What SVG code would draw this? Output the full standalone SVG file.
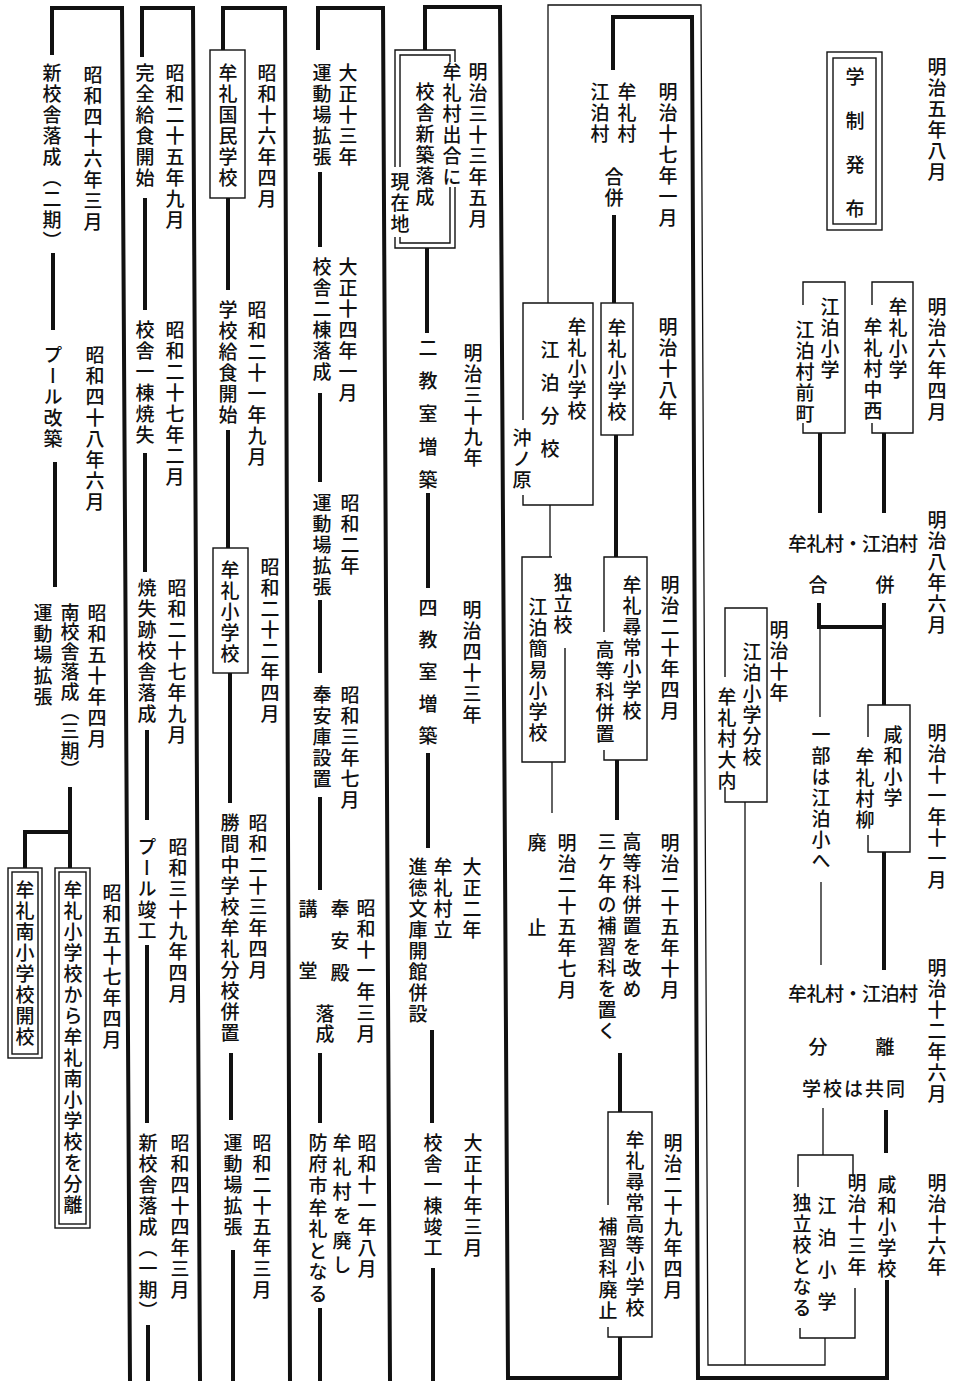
<svg xmlns="http://www.w3.org/2000/svg" width="953" height="1381" viewBox="0 0 953 1381">
<style>
.v{font-family:"Noto Sans CJK JP","Noto Sans CJK SC",sans-serif;font-size:19px;font-weight:500;writing-mode:vertical-rl;letter-spacing:2px;fill:#111}
.h{font-family:"Noto Sans CJK JP","Noto Sans CJK SC",sans-serif;font-size:19px;font-weight:500;dominant-baseline:central;fill:#111}
.k{fill:none;stroke:#111;stroke-width:4}
.t{fill:none;stroke:#111;stroke-width:1.3}
.b{fill:none;stroke:#111;stroke-width:1.4}
</style>
<rect width="953" height="1381" fill="#fff"/>
<g id="connectors">
<path class="k" d="M884,433V513M820,433V513M819,603V627H884M884,603V705M884,852V970M886,1110V1153M887,1280V1378H698L692,17H613V70"/>
<path class="t" d="M820,627V717M821,882V965M823,1108V1155M825,1338V1365H708L701,5H548V303M745,802V1365"/>
<path class="k" d="M614,215V303M616,435V557M617,760V820M620,1053V1112M620,1337V1378H508L500,7H425V50"/>
<path class="t" d="M550,505V557M552,762V813"/>
<path class="k" d="M427,248V333M428,493V588M428,753V848M432,1030V1123M433,1268V1381M390,1381L383,8H318V50"/>
<path class="k" d="M320,172V247M320,393V482M320,600V673M320,797V890M320,1053V1123M320,1308V1381M290,1381L285,8H223V50"/>
<path class="k" d="M228,198V290M228,430V548M230,673V803M231,1053V1120M233,1250V1381M200,1381L193,8H142V57"/>
<path class="k" d="M145,198V310M145,453V572M147,730V820M147,945V1123M148,1325V1381M130,1381L122,8H52V55"/>
<path class="k" d="M53,253V330M55,462V587M70,787V868M70,832H25V868"/>
</g>
<g id="dates-right">
<text class="v" x="937" y="57">明治五年八月</text>
<text class="v" x="937" y="297">明治六年四月</text>
<text class="v" x="937" y="510">明治八年六月</text>
<text class="v" x="937" y="723">明治十一年十一月</text>
<text class="v" x="937" y="958">明治十二年六月</text>
<text class="v" x="937" y="1173">明治十六年</text>
</g>
<g id="n-gakusei">
<rect class="b" x="827" y="52" width="55" height="178"/>
<rect class="b" x="833" y="58" width="43" height="166"/>
<text class="v" x="855" y="67" style="letter-spacing:25px">学制発布</text>
</g>
<g id="n-mure-shogaku">
<path class="b" d="M872,305V282H913V433H872V423"/>
<text class="v" x="898" y="297">牟礼小学</text>
<text class="v" x="873" y="317">牟礼村中西</text>
</g>
<g id="n-ehaku-shogaku">
<path class="b" d="M803,305V282H845V433H803V423"/>
<text class="v" x="830" y="297">江泊小学</text>
<text class="v" x="805" y="320">江泊村前町</text>
</g>
<g id="n-gappei-m8">
<text class="h" x="788" y="542" style="letter-spacing:-0.5px">牟礼村・江泊村</text>
<text class="h" x="818" y="583" text-anchor="middle">合</text>
<text class="h" x="885" y="583" text-anchor="middle">併</text>
</g>
<g id="n-kanwa">
<path class="b" d="M868,737V705H910V852H868V835"/>
<text class="v" x="893" y="725">咸和小学</text>
<text class="v" x="865" y="747">牟礼村柳</text>
</g>
<g id="n-ichibu">
<text class="v" x="821" y="725">一部は江泊小へ</text>
</g>
<g id="n-ehaku-bunko">
<path class="b" d="M725,677V608H767V802H725V787"/>
<text class="v" x="752" y="642">江泊小学分校</text>
<text class="v" x="727" y="687">牟礼村大内</text>
<text class="v" x="779" y="620">明治十年</text>
</g>
<g id="n-bunri">
<text class="h" x="788" y="992" style="letter-spacing:-0.5px">牟礼村・江泊村</text>
<text class="h" x="818" y="1045" text-anchor="middle">分</text>
<text class="h" x="885" y="1045" text-anchor="middle">離</text>
<text class="h" x="802" y="1087" style="letter-spacing:2px">学校は共同</text>
</g>
<g id="n-kanwa2">
<text class="v" x="887" y="1175">咸和小学校</text>
</g>
<g id="n-ehaku-dokuritsu">
<path class="b" d="M798,1187V1155H853V1177M855,1288V1338H800V1328"/>
<text class="v" x="857" y="1173">明治十三年</text>
<text class="v" x="827" y="1196" style="letter-spacing:13px">江泊小学</text>
<text class="v" x="802" y="1193">独立校となる</text>
</g>
<g id="dates-c3">
<text class="v" x="668" y="82">明治十七年一月</text>
<text class="v" x="668" y="317">明治十八年</text>
<text class="v" x="670" y="575">明治二十年四月</text>
<text class="v" x="670" y="833">明治二十五年十月</text>
<text class="v" x="673" y="1133">明治二十九年四月</text>
</g>
<g id="n-gappei-m17">
<text class="v" x="627" y="82">牟礼村</text>
<text class="v" x="600" y="82">江泊村</text>
<text class="v" x="614" y="167">合併</text>
</g>
<g id="n-mure-shogakko">
<rect class="b" x="601" y="303" width="32" height="132"/>
<text class="v" x="617" y="318">牟礼小学校</text>
</g>
<g id="n-ehaku-bunkou">
<path class="b" d="M523,420V303H593V505H523V495"/>
<text class="v" x="577" y="317">牟礼小学校</text>
<text class="v" x="550" y="340" style="letter-spacing:14px">江泊分校</text>
<text class="v" x="522" y="428">沖ノ原</text>
</g>
<g id="n-kani">
<path class="b" d="M552,557H522V762H565V648"/>
<text class="v" x="563" y="573">独立校</text>
<text class="v" x="538" y="597">江泊簡易小学校</text>
</g>
<g id="n-haishi">
<text class="v" x="567" y="833">明治二十五年七月</text>
<text class="v" x="537" y="833">廃</text>
<text class="v" x="537" y="918">止</text>
</g>
<g id="n-jinjo">
<path class="b" d="M604,632V557H647V760H604V750"/>
<text class="v" x="632" y="575">牟礼尋常小学校</text>
<text class="v" x="605" y="640">高等科併置</text>
</g>
<g id="n-hoshu">
<text class="v" x="632" y="832">高等科併置を改め</text>
<text class="v" x="607" y="832">三ケ年の補習科を置く</text>
</g>
<g id="n-koto">
<path class="b" d="M608,1205V1112H652V1337H608V1327"/>
<text class="v" x="635" y="1130">牟礼尋常高等小学校</text>
<text class="v" x="608" y="1217">補習科廃止</text>
</g>
<g id="n-shinchiku">
<path class="b" d="M395,167V50H455V62M455,187V248H395V237"/>
<path class="b" d="M400,167V55H450V62M450,187V243H400V237"/>
<text class="v" x="478" y="62">明治三十三年五月</text>
<text class="v" x="452" y="62">牟礼村出合に</text>
<text class="v" x="425" y="82">校舎新築落成</text>
<text class="v" x="400" y="172">現在地</text>
</g>
<g id="n-m39">
<text class="v" x="428" y="338" style="letter-spacing:14px">二教室増築</text>
<text class="v" x="473" y="343">明治三十九年</text>
</g>
<g id="n-m43">
<text class="v" x="428" y="598" style="letter-spacing:13px">四教室増築</text>
<text class="v" x="472" y="600">明治四十三年</text>
</g>
<g id="n-t2">
<text class="v" x="472" y="857">大正二年</text>
<text class="v" x="443" y="857">牟礼村立</text>
<text class="v" x="418" y="857">進徳文庫開館併設</text>
</g>
<g id="n-t10">
<text class="v" x="473" y="1133">大正十年三月</text>
<text class="v" x="433" y="1133">校舎一棟竣工</text>
</g>
<g id="n-t13">
<text class="v" x="348" y="63">大正十三年</text>
<text class="v" x="322" y="63">運動場拡張</text>
</g>
<g id="n-t14">
<text class="v" x="348" y="257">大正十四年一月</text>
<text class="v" x="322" y="257">校舎二棟落成</text>
</g>
<g id="n-s2">
<text class="v" x="350" y="493">昭和二年</text>
<text class="v" x="322" y="493">運動場拡張</text>
</g>
<g id="n-s3">
<text class="v" x="350" y="685">昭和三年七月</text>
<text class="v" x="322" y="685">奉安庫設置</text>
</g>
<g id="n-s11a">
<text class="v" x="366" y="898">昭和十一年三月</text>
<text class="v" x="340" y="899" style="letter-spacing:13px">奉安殿</text>
<text class="v" x="308" y="899" style="letter-spacing:43px">講堂</text>
<text class="v" x="325" y="1004" style="letter-spacing:1px">落成</text>
</g>
<g id="n-s11b">
<text class="v" x="367" y="1133">昭和十一年八月</text>
<text class="v" x="342" y="1133" style="letter-spacing:5.5px">牟礼村を廃し</text>
<text class="v" x="318" y="1133" style="letter-spacing:2.6px">防府市牟礼となる</text>
</g>
<g id="n-s16">
<rect class="b" x="210" y="50" width="35" height="148"/>
<text class="v" x="267" y="63">昭和十六年四月</text>
<text class="v" x="228" y="63">牟礼国民学校</text>
</g>
<g id="n-s21">
<text class="v" x="257" y="300">昭和二十一年九月</text>
<text class="v" x="228" y="300">学校給食開始</text>
</g>
<g id="n-s22">
<rect class="b" x="213" y="548" width="35" height="125"/>
<text class="v" x="270" y="557">昭和二十二年四月</text>
<text class="v" x="230" y="560">牟礼小学校</text>
</g>
<g id="n-s23">
<text class="v" x="258" y="813">昭和二十三年四月</text>
<text class="v" x="230" y="813">勝間中学校牟礼分校併置</text>
</g>
<g id="n-s25a">
<text class="v" x="262" y="1133">昭和二十五年三月</text>
<text class="v" x="233" y="1133">運動場拡張</text>
</g>
<g id="n-s25b">
<text class="v" x="175" y="63">昭和二十五年九月</text>
<text class="v" x="145" y="63">完全給食開始</text>
</g>
<g id="n-s27a">
<text class="v" x="175" y="320">昭和二十七年二月</text>
<text class="v" x="145" y="320">校舎一棟焼失</text>
</g>
<g id="n-s27b">
<text class="v" x="177" y="578">昭和二十七年九月</text>
<text class="v" x="147" y="578">焼失跡校舎落成</text>
</g>
<g id="n-s39">
<text class="v" x="178" y="837">昭和三十九年四月</text>
<text class="v" x="147" y="837">プール竣工</text>
</g>
<g id="n-s44">
<text class="v" x="180" y="1133">昭和四十四年三月</text>
<text class="v" x="148" y="1133">新校舎落成（一期）</text>
</g>
<g id="n-s46">
<text class="v" x="93" y="65">昭和四十六年三月</text>
<text class="v" x="52" y="63">新校舎落成（二期）</text>
</g>
<g id="n-s48">
<text class="v" x="95" y="345">昭和四十八年六月</text>
<text class="v" x="53" y="345">プール改築</text>
</g>
<g id="n-s50">
<text class="v" x="97" y="603">昭和五十年四月</text>
<text class="v" x="70" y="603" style="letter-spacing:0.7px">南校舎落成（三期）</text>
<text class="v" x="43" y="603">運動場拡張</text>
</g>
<g id="n-s57">
<text class="v" x="112" y="883">昭和五十七年四月</text>
</g>
<g id="n-bunri-minami">
<rect class="b" x="55" y="868" width="35" height="360"/>
<rect class="b" x="59" y="872" width="27" height="352"/>
<text class="v" x="73" y="880">牟礼小学校から牟礼南小学校を分離</text>
</g>
<g id="n-minami">
<rect class="b" x="8" y="868" width="34" height="190"/>
<rect class="b" x="12" y="872" width="26" height="182"/>
<text class="v" x="25" y="880">牟礼南小学校開校</text>
</g>
</svg>
